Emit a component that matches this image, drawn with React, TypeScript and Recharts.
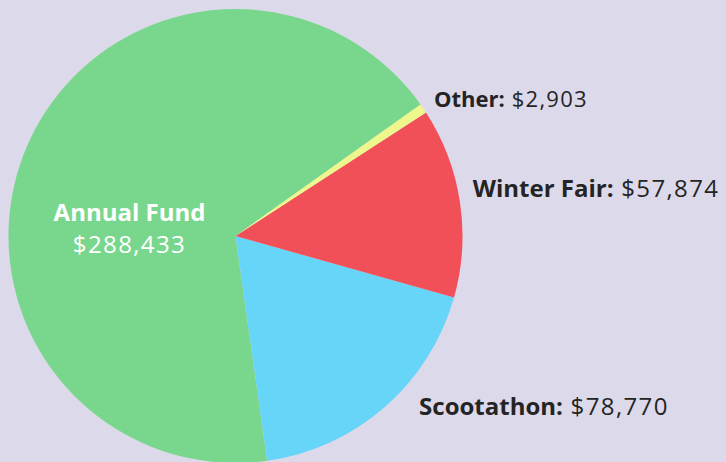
import React from 'react';
import { PieChart, Pie, Cell } from 'recharts';

const categories = ['Annual Fund', 'Scootathon', 'Winter Fair', 'Other'];
const amounts = [288433, 78770, 57874, 2903];
const colors = ['#79D78D', '#67D5F8', '#F25058', '#EDF78B'];

const data = categories.map((name, i) => ({ name, value: amounts[i] }));

const BG = '#DCD9EA';
const FONT = '"Open Sans", Lato, sans-serif';
const RAD = Math.PI / 180;

// label placement styles (radial distance + nudge + size)
const labelPlacement: Record<string, { inside: boolean; k: number; gap: number; dx: number; dy: number; size: number }> = {
  'Annual Fund': { inside: true, k: 0.47, gap: 0, dx: -8, dy: 43, size: 24 },
  Scootathon: { inside: false, k: 1, gap: 14, dx: 25, dy: -2, size: 24 },
  'Winter Fair': { inside: false, k: 1, gap: 14, dx: -1, dy: -3, size: 24 },
  Other: { inside: false, k: 1, gap: 14, dx: -1, dy: 6, size: 22 },
};

const fmt = (v: number) => '$' + v.toLocaleString('en-US');

const renderLabel = (props: any) => {
  const { cx, cy, midAngle, outerRadius, payload, value } = props;
  const name = payload?.name ?? props.name;
  const p = labelPlacement[name];
  const R = outerRadius * p.k + p.gap;
  const x = cx + R * Math.cos(-midAngle * RAD) + p.dx;
  const y = cy + R * Math.sin(-midAngle * RAD) + p.dy;
  const ls = `${(p.size * 0.058).toFixed(2)}px`;
  if (p.inside) {
    return (
      <g>
        <text x={x} y={y - 16} textAnchor="middle" fill="#FFFFFF" fontFamily={FONT} fontSize={p.size} fontWeight={700}>
          {name}
        </text>
        <text x={x} y={y + 16} textAnchor="middle" fill="#FFFFFF" fontFamily={FONT} fontSize={p.size} fontWeight={400} style={{ letterSpacing: ls }}>
          {fmt(value)}
        </text>
      </g>
    );
  }
  return (
    <text x={x} y={y} textAnchor="start" fill="#242424" fontFamily={FONT} fontSize={p.size}>
      <tspan fontWeight={700}>{name}:</tspan>
      <tspan fontWeight={400} style={{ letterSpacing: ls }}>{' ' + fmt(value)}</tspan>
    </text>
  );
};

export default function App() {
  return (
    <div style={{ position: 'absolute', left: 0, top: 0, width: 726, height: 462, background: BG }}>
      <PieChart width={726} height={462} margin={{ top: 0, right: 0, bottom: 0, left: 0 }}>
        <Pie
          data={data}
          dataKey="value"
          nameKey="name"
          cx={235.5}
          cy={236}
          outerRadius={227}
          startAngle={35.4}
          endAngle={395.4}
          stroke="none"
          label={renderLabel}
          labelLine={false}
          isAnimationActive={false}
        >
          {data.map((d, i) => (
            <Cell key={d.name} fill={colors[i]} />
          ))}
        </Pie>
      </PieChart>
    </div>
  );
}
